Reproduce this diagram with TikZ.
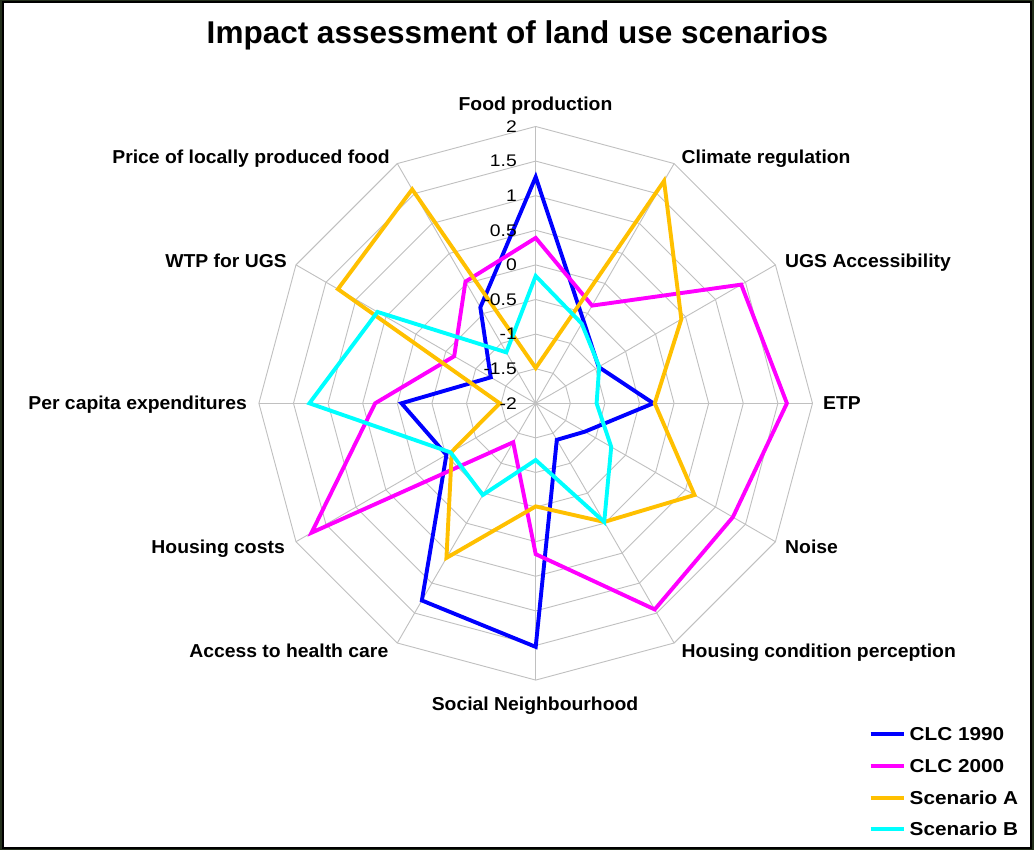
\documentclass[tikz,border=0pt]{standalone}
\usepackage{fontspec}
\setmainfont{Liberation Sans}
\newfontfamily\lblfont[FakeStretch=1.035]{Liberation Sans}
\newfontfamily\legfont[FakeStretch=1.11]{Liberation Sans}
\newfontfamily\tckfont[FakeStretch=1.15]{Liberation Sans}
\definecolor{bggreen}{HTML}{24301C}
\definecolor{gridgray}{HTML}{C0C0C0}
\definecolor{sblue}{HTML}{0000FF}
\definecolor{smag}{HTML}{FF00FF}
\definecolor{syel}{HTML}{FFC000}
\definecolor{scyan}{HTML}{00FFFF}
\newcommand{\Pt}[2]{({90-30*#1}:{(#2+2)*69.2})}
\begin{document}
\begin{tikzpicture}[x=1pt,y=1pt,
  axlabel/.style={inner sep=0pt,font=\lblfont\fontsize{18.7}{22}\selectfont\bfseries},
  ticklabel/.style={inner sep=0pt,anchor=east,font=\tckfont\fontsize{16.8}{20}\selectfont},
  series/.style={line width=3.9pt},
  gridline/.style={draw=gridgray,line width=0.9pt},
  legtext/.style={inner sep=0pt,anchor=west,font=\legfont\fontsize{18.7}{22}\selectfont\bfseries}]
\fill[bggreen] (0,0) rectangle (1034,850);
\filldraw[fill=white,draw=black,line width=1.5pt] (3,2) rectangle (1031,848);
\useasboundingbox (0,0) rectangle (1034,850);
\node[inner sep=0pt,anchor=base,font=\fontsize{31.5}{36}\selectfont\bfseries] (title) at (517.5,806.5) {Impact assessment of land use scenarios};
\begin{scope}[shift={(535.7,446.7)}]
  \coordinate (c) at (0,0);
  \foreach \i in {1,...,8}{
    \draw[gridline] (90:{\i*34.6}) \foreach \k in {1,...,11}{ -- ({90-30*\k}:{\i*34.6}) } -- cycle;
  }
  \foreach \k in {0,...,11}{ \draw[gridline] (c) -- ({90-30*\k}:276.8); }
  % series
  \draw[series,sblue] \Pt{0}{1.27} -- \Pt{1}{-0.62} -- \Pt{2}{-0.95} -- \Pt{3}{-0.30} -- \Pt{4}{-1.18} -- \Pt{5}{-1.39} -- \Pt{6}{1.52} -- \Pt{7}{1.29} -- \Pt{8}{-0.51} -- \Pt{9}{-0.06} -- \Pt{10}{-1.25} -- \Pt{11}{-0.40} -- cycle;
  \draw[series,smag] \Pt{0}{0.39} -- \Pt{1}{-0.37} -- \Pt{2}{1.43} -- \Pt{3}{1.63} -- \Pt{4}{1.29} -- \Pt{5}{1.44} -- \Pt{6}{0.18} -- \Pt{7}{-1.35} -- \Pt{8}{1.74} -- \Pt{9}{0.32} -- \Pt{10}{-0.64} -- \Pt{11}{0.03} -- cycle;
  \draw[series,syel] \Pt{0}{-1.49} -- \Pt{1}{1.71} -- \Pt{2}{0.43} -- \Pt{3}{-0.28} -- \Pt{4}{0.65} -- \Pt{5}{-0.02} -- \Pt{6}{-0.51} -- \Pt{7}{0.58} -- \Pt{8}{-0.60} -- \Pt{9}{-1.48} -- \Pt{10}{1.30} -- \Pt{11}{1.57} -- cycle;
  \draw[series,scyan] \Pt{0}{-0.16} -- \Pt{1}{-0.67} -- \Pt{2}{-0.94} -- \Pt{3}{-1.12} -- \Pt{4}{-0.74} -- \Pt{5}{-0.02} -- \Pt{6}{-1.18} -- \Pt{7}{-0.47} -- \Pt{8}{-0.58} -- \Pt{9}{1.27} -- \Pt{10}{0.64} -- \Pt{11}{-1.15} -- cycle;
  % tick labels
  \foreach \v/\t [count=\n] in {-2/-2,-1.5/-1.5,-1/-1,-0.5/-0.5,0/0,0.5/0.5,1/1,1.5/1.5,2/2}{
    \node[ticklabel] (tick\n) at (-18.7,{(\v+2)*69.2}) {\t};
  }
\end{scope}
% axis labels
\node[axlabel,anchor=base] (l0) at (535.5,739.3) {Food production};
\node[axlabel,anchor=base west] (l1) at (681.5,686.7) {Climate regulation};
\node[axlabel,anchor=base west] (l2) at (785,582.7) {UGS Accessibility};
\node[axlabel,anchor=base west] (l3) at (823,440.7) {ETP};
\node[axlabel,anchor=base west] (l4) at (785,296.5) {Noise};
\node[axlabel,anchor=base west] (l5) at (681.5,192.5) {Housing condition perception};
\node[axlabel,anchor=base] (l6) at (535,139.5) {Social Neighbourhood};
\node[axlabel,anchor=base east] (l7) at (388.5,192.5) {Access to health care};
\node[axlabel,anchor=base east] (l8) at (285,296.5) {Housing costs};
\node[axlabel,anchor=base east] (l9) at (247,440.7) {Per capita expenditures};
\node[axlabel,anchor=base east] (l10) at (287,582.7) {WTP for UGS};
\node[axlabel,anchor=base east] (l11) at (390,686.7) {Price of locally produced food};
% legend
\coordinate (g1a) at (870.5,115.7); \coordinate (g1b) at (904,115.7);
\coordinate (g2a) at (870.5,84);    \coordinate (g2b) at (904,84);
\coordinate (g3a) at (870.5,52.3);  \coordinate (g3b) at (904,52.3);
\coordinate (g4a) at (870.5,21);    \coordinate (g4b) at (904,21);
\draw[series,sblue] (g1a) -- (g1b);
\draw[series,smag] (g2a) -- (g2b);
\draw[series,syel] (g3a) -- (g3b);
\draw[series,scyan] (g4a) -- (g4b);
\node[legtext] (t1) at (909.5,115.7) {CLC 1990};
\node[legtext] (t2) at (909.5,84) {CLC 2000};
\node[legtext] (t3) at (909.5,52.3) {Scenario A};
\node[legtext] (t4) at (909.5,21) {Scenario B};
\end{tikzpicture}
\end{document}
